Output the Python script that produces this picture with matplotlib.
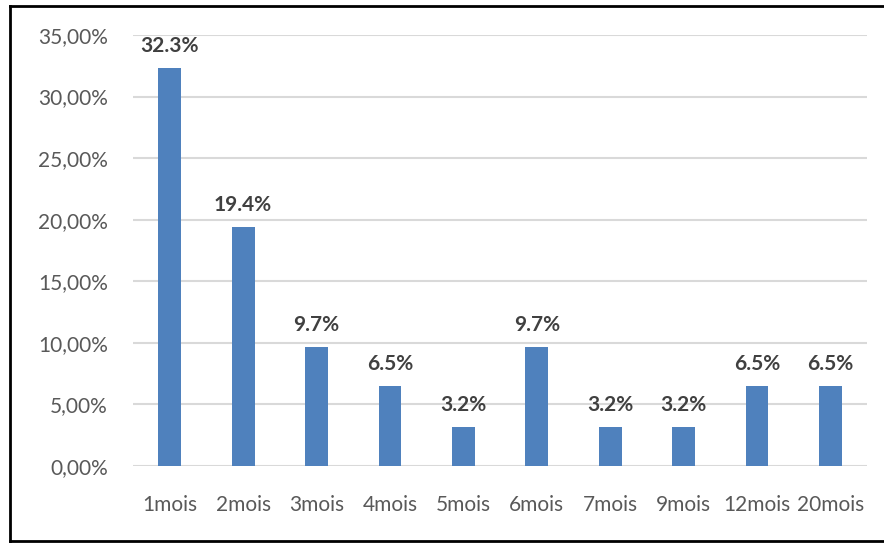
import matplotlib
matplotlib.use("Agg")
import matplotlib.pyplot as plt
from matplotlib.lines import Line2D
from matplotlib.ticker import FuncFormatter

categories = ["1mois", "2mois", "3mois", "4mois", "5mois", "6mois",
              "7mois", "9mois", "12mois", "20mois"]
values = [32.3, 19.4, 9.7, 6.5, 3.2, 9.7, 3.2, 3.2, 6.5, 6.5]
y_ticks = [0, 5, 10, 15, 20, 25, 30, 35]

plt.rcParams["font.family"] = ["Lato", "DejaVu Sans"]

fig = plt.figure(figsize=(8.84, 5.45), dpi=100)
ax = fig.add_axes([0.1505, 0.1450, 0.8303, 0.7908])

x = range(len(categories))
ax.bar(x, values, width=0.31, color="#4f81bd", zorder=3)

for xi, v in zip(x, values):
    ax.annotate(f"{v:.1f}%", (xi, v), xytext=(0, 8.5), textcoords="offset points",
                ha="center", va="bottom", fontsize=15, fontweight="bold",
                color="#404040", zorder=4)

ax.set_xlim(-0.5, len(categories) - 0.5)
ax.set_ylim(0, 35)
ax.set_yticks(y_ticks)
ax.yaxis.set_major_formatter(FuncFormatter(lambda v, p: f"{v:.2f}%".replace(".", ",")))
ax.set_xticks(list(x))
ax.set_xticklabels(categories)
ax.tick_params(axis="both", length=0, labelsize=15, labelcolor="#595959")
ax.tick_params(axis="x", pad=21)
ax.tick_params(axis="y", pad=18)

ax.grid(axis="y", color="#d9d9d9", linewidth=1.5, zorder=0)
for s in ax.spines.values():
    s.set_visible(False)

# outer frame (left, top, bottom only)
frame = dict(color="black", linewidth=2, transform=fig.transFigure)
fig.add_artist(Line2D([10 / 884, 10 / 884], [1 - 6 / 545, 1 - 541 / 545], **frame))
fig.add_artist(Line2D([10 / 884, 1], [1 - 6 / 545, 1 - 6 / 545], **frame))
fig.add_artist(Line2D([10 / 884, 1], [1 - 541 / 545, 1 - 541 / 545], **frame))

fig.savefig("out.png", dpi=100)
